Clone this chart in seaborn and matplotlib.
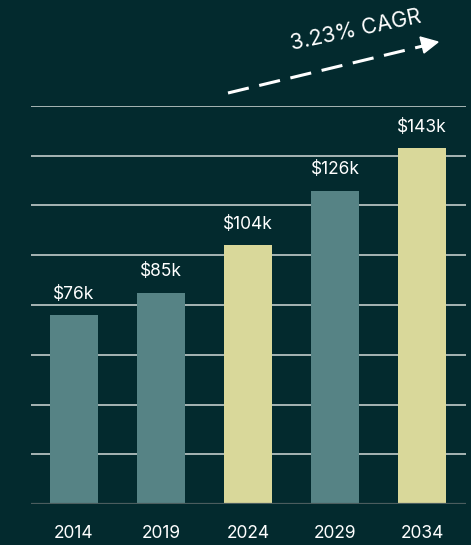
import numpy as np
import pandas as pd
import seaborn as sns
import matplotlib.pyplot as plt
from matplotlib.lines import Line2D

# data
years = ['2014', '2019', '2024', '2029', '2034']
values = [76, 85, 104, 126, 143]
labels = ['$76k', '$85k', '$104k', '$126k', '$143k']

bg = '#032A2E'
teal = '#568385'
yellow = '#D9D89A'
bar_colors = [teal, teal, yellow, teal, yellow]

sns.set_theme(style='dark')
plt.rcParams['font.family'] = ['Inter', 'DejaVu Sans']

df = pd.DataFrame({'year': years, 'value': values})

fig = plt.figure(figsize=(4.71, 5.45), dpi=100, facecolor=bg)
ax = fig.add_axes([30.5 / 471, 41 / 545, 435 / 471, 398 / 545])
ax.set_facecolor(bg)

sns.barplot(data=df, x='year', y='value', hue='year', palette=bar_colors,
            width=0.55, saturation=1, legend=False, ax=ax, zorder=3,
            linewidth=0, edgecolor='none')

ax.set_ylim(0, 160)
ax.set_xlim(-0.5, 4.5)
for yv in range(20, 161, 20):
    ax.axhline(yv, color='#A7B5B4', lw=1.4, zorder=1)
ax.axhline(0, color='#4B5D5E', lw=1.6, zorder=4)

for i, (v, lab) in enumerate(zip(values, labels)):
    ax.text(i, v + 5, lab, ha='center', va='bottom', color='white', fontsize=12.5)

ax.set_yticks([])
ax.set_xlabel('')
ax.set_ylabel('')
ax.tick_params(axis='x', colors='white', labelsize=12.5, length=0, pad=15)
for s in ax.spines.values():
    s.set_visible(False)

# CAGR arrow (figure pixel coords -> fraction)
W, H = 471, 545
x0, y0 = 228 / W, 1 - 93 / H
x1, y1 = 425 / W, 1 - 45.5 / H
fig.add_artist(Line2D([x0, x1], [y0, y1], transform=fig.transFigure,
                      color='white', lw=2.2, dashes=(7, 3.5)))
fig.add_artist(plt.Polygon([[438 / W, 1 - 42 / H], [420 / W, 1 - 37 / H], [424 / W, 1 - 53 / H]],
                           closed=True, transform=fig.transFigure, color='white'))
fig.text(356 / W, 1 - 30 / H, '3.23% CAGR', color='white', fontsize=15.5,
         rotation=12, ha='center', va='center')

# heading text, cut off at the top as in the source
fig.text(30 / W, 1 - 4 / H, 'services.', color='white', fontsize=14, ha='left', va='bottom')

fig.savefig('out.png', dpi=100, facecolor=bg)
